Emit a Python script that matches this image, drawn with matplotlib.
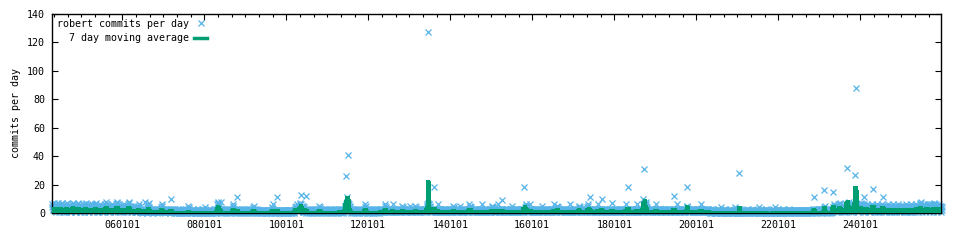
import datetime as dt
import numpy as np
import pandas as pd
import matplotlib
matplotlib.use("Agg")
import matplotlib.pyplot as plt
import matplotlib.dates as mdates
from matplotlib.lines import Line2D

# commits per day, one sample every 3 days, each row ~ one year from 2004-04-15
start = dt.date(2004, 4, 15)
rows = [
    "4625374253 2413526374 3152436257 2314253142 3516247352 4213524163 5274635241 3152437462 5314253142 3625143526 4735241352 4163524253 62",
    "3142536475 2413524132 5362415324 1352436285 4635241352 4132536241 5324135263 7485263524 1352413524 3615243524 1352637485 2413524132 53",
    "2131221312 4356241312 2130213121 3122131024 5637421312 2131201312 2131221302 1312213121 3465321312 2130213121 3122130213 2131212031 21",
    "1201210312 0121302101 2103121012 1302101215 4310121012 1021301210 2101210312 0121012103 1201210421 0121012101 2103101210 1201312012 10",
    "2136857642 3121302131 2013120213 1202131202 1312021346 5321202131 2021312021 3120213102 1312021312 0213120213 1202131202 4352131202 13",
    "1210212012 1021201212 0121021201 2102120121 0213462101 2102120121 0212012102 1201210212 0121021201 2102120121 0212012102 1342536423 21",
    "4526374635 2413524132 1202131202 1312021312 0213120213 1202131202 1352431202 1312021312 0213120213 1202131202 1312021312 0213120213 12",
    "1312021312 0213243546 5748657463 5241302131 2021312021 3120213120 2131202131 2021346531 2021312021 3120213120 2131202131 2021312021 31",
    "2312132213 2135643212 3213221312 2132316213 2213213221 3122132312 2135243213 2213221312 3213221522 3122132312 2135243213 2213221312 32",
    "2213221312 3213546475 6635423212 2132213231 2213213621 3122132312 2132213221 3213221312 3122132312 2135342132 2213221312 3215221312 21",
    "3122132312 2132213261 4352432312 2132213221 3213221312 3122132612 2132213221 3213221312 3122143542 2132213221 3213261312 3122132312 22",
    "2132213221 3213221312 3122152312 2132213221 3213221312 3122132312 2234563542 2132213261 3213221312 3122132312 2132213221 3215221312 32",
    "2213221312 3122132312 2132213621 3213245432 3122132312 2132213221 3213221312 3122162312 2132213221 3213221312 4354231312 2132213221 32",
    "2213456313 3122132312 2132213221 3213261312 3122132312 2132213221 3213221312 3122132712 2132213221 3213221312 3122132312 2132213261 32",
    "3213221312 3122132312 2132213261 3213221312 3122132312 3456786542 3213221312 3122132312 2132613221 3213221312 3122132312 2132213221 32",
    "2132213221 3213221312 3122162312 2132213221 3213221312 3123454312 2132213221 3213221312 3122132312 2132213261 3213221312 3122132312 22",
    "1201301102 1311021201 2011021311 0210410120 1202101302 1101201102 1311021101 2011021411 0210110120 1302101102 1201201102 1311021101 20",
    "1211021301 2011021211 0210410120 1302101102 1201201302 1011021101 2011021311 0210410120 1302101102 1201201302 1011021101 2013021211 02",
    "1201210212 0121021201 2102120121 0212012102 1201210212 0121021201 2102132131 2031213021 3213021312 3021324352 1312031213 0213120213 21",
    "2435263524 1352413624 5736452413 5241352413 6245364758 6352413524 1352645342 4635241352 4635746352 4136251435 2463524135 2413524635 24",
    "3524135241 3625143524 1352463524 1352413524 3625143524 1352413624 1352413524 3625143524 1352435241 3524136251 4352413524 1362514352 41",
    "3524635241 4352637482 5314253624 1352463524 5362415263 5241536274 5263524135 2463524135 24",
]

# days that stick out above the band
peak_dates = ["2006-07-20", "2007-03-10", "2008-05-25", "2008-10-20", "2009-10-10",
              "2010-05-15", "2010-06-25", "2011-06-15", "2011-06-28", "2011-07-05",
              "2013-06-18", "2013-08-12", "2015-04-10", "2015-10-20", "2017-05-28",
              "2017-09-15", "2018-05-04", "2018-09-10", "2018-09-25", "2019-06-15",
              "2019-10-12", "2021-01-20", "2022-11-15", "2023-02-14", "2023-05-05",
              "2023-09-06", "2023-11-15", "2023-11-25", "2024-02-05", "2024-04-25",
              "2024-07-22"]
peak_values = [8, 10, 8, 11, 11,
               13, 12, 26, 11, 41,
               127, 18, 9, 18, 11,
               10, 18, 10, 31, 12,
               18, 28, 11, 16, 15,
               32, 27, 88, 11, 17,
               11]

blue = "#56b4e9"
green = "#009e73"
mono = "DejaVu Sans Mono"

# build the series
dates = []
counts = []
for k, r in enumerate(rows):
    r = r.replace(" ", "")
    d0 = start + dt.timedelta(days=366 * k)
    for i, ch in enumerate(r):
        dates.append(pd.Timestamp(d0 + dt.timedelta(days=3 * i)))
        counts.append(int(ch))
dates += [pd.Timestamp(d) for d in peak_dates]
counts += peak_values
s = pd.Series(counts, index=pd.DatetimeIndex(dates)).sort_index()
ma = s.rolling(7, center=True, min_periods=1).mean()

fig = plt.figure(figsize=(9.6, 2.4), dpi=100)
ax = fig.add_axes([52 / 960, 1 - 213 / 240, 889 / 960, 199 / 240])

# points per day, then the moving average drawn as impulses
ax.plot(s.index, s.values, "x", color=blue, ms=3.8, mew=0.9, clip_on=False,
        antialiased=False, zorder=2)
ax.vlines(ma.index, 0, ma.values, colors=green, lw=1.5, antialiased=False, zorder=3)

ax.set_xlim(pd.Timestamp("2004-04-15"), pd.Timestamp("2025-12-20"))
ax.set_ylim(0, 140)
ax.set_yticks(range(0, 141, 20))
ax.xaxis.set_major_locator(mdates.YearLocator(2))
ax.xaxis.set_minor_locator(mdates.MonthLocator(bymonth=[1, 5, 9]))
ax.xaxis.set_major_formatter(mdates.DateFormatter("%y%m%d"))

ax.tick_params(which="both", direction="in", top=True, right=True, width=0.8)
ax.tick_params(which="major", length=4, labelsize=7.2, pad=5)
ax.tick_params(which="minor", length=2)
for lab in ax.get_xticklabels() + ax.get_yticklabels():
    lab.set_family(mono)
for sp in ax.spines.values():
    sp.set_linewidth(1.0)

ax.set_ylabel("commits per day", family=mono, fontsize=7.2, labelpad=4.5)

handles = [Line2D([], [], ls="none", marker="x", color=blue, ms=3.8, mew=0.9),
           Line2D([], [], color=green, lw=2.5)]
ax.legend(handles, ["robert commits per day", "7 day moving average"],
          loc="upper left", frameon=False, markerfirst=False,
          prop={"family": mono, "size": 7.2}, handlelength=1.3,
          handletextpad=0.5, labelspacing=0.45, borderaxespad=0.3,
          borderpad=0.2)

fig.savefig("out.png", dpi=100)
